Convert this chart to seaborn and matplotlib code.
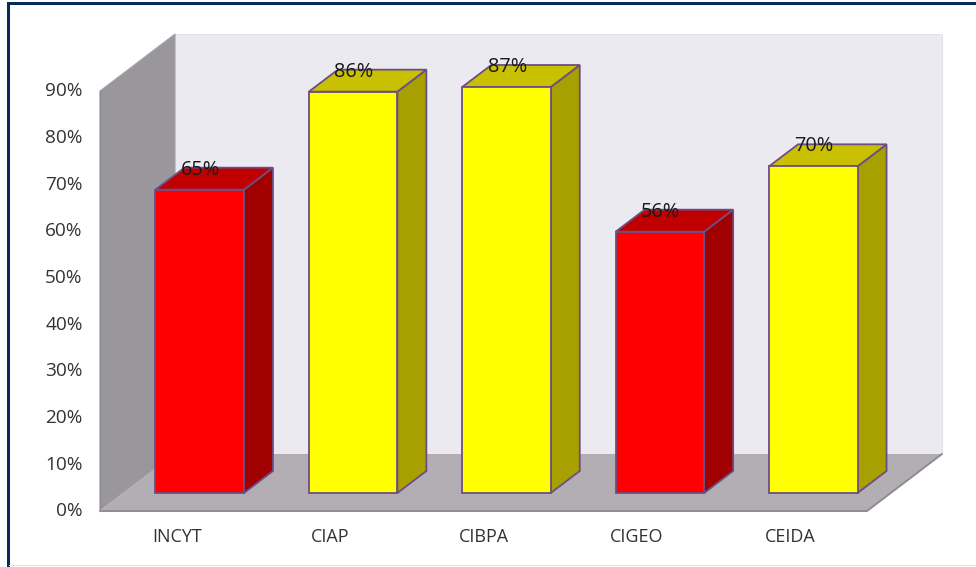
import matplotlib
matplotlib.use("Agg")
import matplotlib.pyplot as plt
import seaborn as sns
import pandas as pd
from matplotlib.patches import Polygon, Rectangle
from matplotlib.lines import Line2D
from matplotlib.transforms import Affine2D

categories = ["INCYT", "CIAP", "CIBPA", "CIGEO", "CEIDA"]
values = [65, 86, 87, 56, 70]
labels = ["65%", "86%", "87%", "56%", "70%"]
yticks = [0, 10, 20, 30, 40, 50, 60, 70, 80, 90]
front_colors = ["#FF0000", "#FFFF00", "#FFFF00", "#FF0000", "#FFFF00"]
top_colors = ["#C00000", "#C8C000", "#C8C000", "#C00000", "#C8C000"]
side_colors = ["#A00000", "#A8A000", "#A8A000", "#A00000", "#A8A000"]

sns.set_theme(style="white")
plt.rcParams["font.family"] = ["Open Sans", "DejaVu Sans"]

W, H = 976, 567
PW = 767
fig = plt.figure(figsize=(W / 100, H / 100), dpi=100, facecolor="white")
ax = fig.add_axes([100 / W, 1 - 511 / H, PW / W, 420 / H])
ax.patch.set_alpha(0)

w = 0.577
df = pd.DataFrame({"cat": categories, "val": values})
sns.barplot(data=df, x="cat", y="val", hue="cat", palette=front_colors, legend=False,
            width=w, ax=ax, saturation=1, zorder=5, edgecolor="#6B4E85", linewidth=1.3)
ax.set_xlim(-0.5, 4.5)
ax.set_ylim(0, 90)
ax.set_xlabel("")
ax.set_ylabel("")
for s in ax.spines.values():
    s.set_visible(False)

sx, sy = PW / 5, 420 / 90             # pixels per data unit
x0, x1, y0, y1 = -0.5, 4.5, 0, 90
wx, wy = 75 / sx, 57 / sy             # wall depth
fx, fy = 23 / sx, 18 / sy             # bars' setback from the front
bx, by = 29 / sx, 22 / sy             # bar depth


def poly(pts, color, edge="none", z=1, lw=0.0):
    ax.add_patch(Polygon(pts, closed=True, facecolor=color, edgecolor=edge, linewidth=lw,
                         zorder=z, clip_on=False))


poly([(x0 + wx, y0 + wy), (x1 + wx, y0 + wy), (x1 + wx, y1 + wy), (x0 + wx, y1 + wy)], "#ECEAF1", "#E4E2E9", 1, 0.8)
poly([(x0, y0), (x0 + wx, y0 + wy), (x0 + wx, y1 + wy), (x0, y1)], "#99979C", "#A5A3A8", 2, 0.8)
poly([(x0, y0), (x1, y0), (x1 + wx, y0 + wy), (x0 + wx, y0 + wy)], "#B3AEB4", "none", 3)
ax.add_line(Line2D([x0, x1, x1 + wx], [y0, y0, y0 + wy], color="#8E8C92", lw=1.4, zorder=3.5, clip_on=False))
ax.add_line(Line2D([x0, x0 + wx], [y0, y0 + wy], color="#B5B3B8", lw=0.9, zorder=3.5, clip_on=False))
ax.add_line(Line2D([x0, x0], [y0, y1], color="#8E8C92", lw=1.0, zorder=3.5, clip_on=False))

for i, bar in enumerate(ax.patches[:5]):
    v = values[i]
    l = i - w / 2 + fx
    r = i + w / 2 + fx
    b = fy
    t = v + fy
    bar.set_xy((l, b))
    bar.set_height(v)
    bar.set_width(w)
    bar.set_clip_on(False)
    poly([(r, b), (r + bx, b + by), (r + bx, t + by), (r, t)], side_colors[i], "#6B4E85", 4, 1.3)
    poly([(l, t), (r, t), (r + bx, t + by), (l + bx, t + by)], top_colors[i], "#6B4E85", 4, 1.3)
    ax.text(i + fx + 0.005, t + by - 0.45, labels[i], ha="center", va="center", fontsize=14.3,
            color="#1a1a1a", zorder=7, clip_on=False)

ax.set_yticks(yticks)
ax.set_yticklabels([f"{t}%" for t in yticks], fontsize=13.7, color="#333333")
ax.tick_params(axis="y", length=0, pad=12.5)
ax.set_xticks(range(5))
ax.set_xticklabels(categories, fontsize=13, color="#333333")
ax.tick_params(axis="x", length=0, pad=12)
for lab in ax.get_yticklabels():
    lab.set_transform(lab.get_transform() + Affine2D().translate(0, 1.5))

# outer frame: top and left rules, faint bottom line
fig.add_artist(Rectangle((7 / W, 0), 2.5 / W, 1 - 2 / H, transform=fig.transFigure, color="#0B2A5C", lw=0))
fig.add_artist(Rectangle((7 / W, 1 - 4.5 / H), 1 - 7 / W, 2.5 / H, transform=fig.transFigure, color="#0B2A5C", lw=0))
fig.add_artist(Rectangle((9 / W, 1.5 / H), 1 - 9 / W, 1 / H, transform=fig.transFigure, color="#E6E6E6", lw=0))

fig.savefig("out.png", dpi=100, facecolor="white")
